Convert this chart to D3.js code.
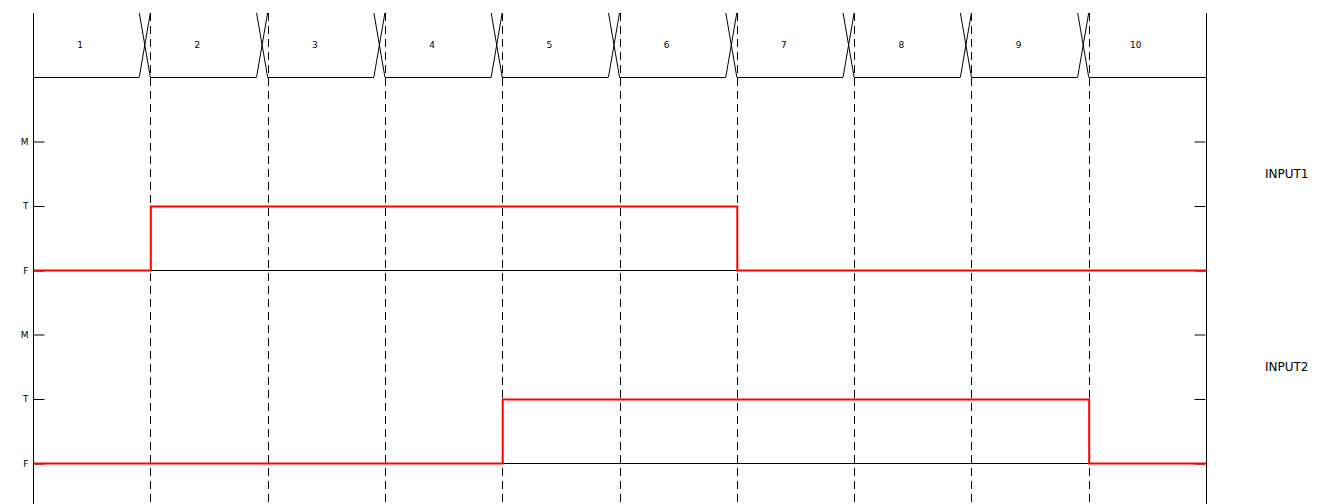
<!DOCTYPE html>
<html><head><meta charset="utf-8">
<script src="https://cdn.jsdelivr.net/npm/d3@7"></script>
<style>body{margin:0;background:#fff}svg{display:block}text{font-family:"DejaVu Sans",sans-serif}</style>
</head><body><svg id="c" width="1329" height="504"></svg>
<script>
const intervals = ["1","2","3","4","5","6","7","8","9","10"];
const levels = ["F","T","M"];
const signalNames = ["INPUT1","INPUT2"];
const input1 = ["F","T","T","T","T","T","F","F","F","F"];
const input2 = ["F","F","F","F","T","T","T","T","T","F"];
const signals = [input1, input2];

(function(){
const svg = d3.select("#c");
const x = d3.scaleLinear().domain([0, intervals.length]).range([33, 1206]);
const rowBand = d3.scaleBand().domain(signalNames).range([77, 463]).paddingInner(0).paddingOuter(0);
const topY = 13, bottomY = 504, busY = 77, cross = 11;

// bus row
const g = svg.append("g").attr("stroke", "#000").attr("stroke-width", 1).attr("fill", "none");
intervals.forEach((d, i) => {
  const x0 = x(i);
  const x1 = i === intervals.length - 1 ? x(i + 1) : x(i + 1) - cross;
  g.append("line").attr("x1", x0).attr("x2", x1).attr("y1", busY + 0.5).attr("y2", busY + 0.5);
  if (i < intervals.length - 1) {
    const xb = x(i + 1);
    g.append("line").attr("x1", xb - cross).attr("y1", busY).attr("x2", xb).attr("y2", topY);
    g.append("line").attr("x1", xb - cross).attr("y1", topY).attr("x2", xb).attr("y2", busY);
  }
  svg.append("text").attr("x", x(i + 0.5) - 11.5).attr("y", 48).attr("text-anchor", "middle")
    .attr("font-size", 9).attr("fill", "#000").text(d);
});

// outer verticals
[0, intervals.length].forEach(v => {
  svg.append("line").attr("x1", Math.round(x(v)) + 0.5).attr("x2", Math.round(x(v)) + 0.5)
    .attr("y1", topY).attr("y2", bottomY).attr("stroke", "#000");
});
// dashed boundaries
d3.range(1, intervals.length).forEach(v => {
  const xv = Math.round(x(v)) + 0.5;
  svg.append("line").attr("x1", xv).attr("x2", xv).attr("y1", topY).attr("y2", bottomY)
    .attr("stroke", "#000").attr("stroke-dasharray", "8,5");
});

signalNames.forEach((name, r) => {
  const b0 = rowBand(name), bh = rowBand.bandwidth();
  const y = d3.scalePoint().domain(levels).range([b0 + bh, b0 + bh / 3]);
  // baseline
  svg.append("line").attr("x1", x(0)).attr("x2", x(intervals.length))
    .attr("y1", Math.round(y("F")) + 0.5).attr("y2", Math.round(y("F")) + 0.5).attr("stroke", "#000");
  const yr = d3.scalePoint().domain(levels).range([Math.round(b0 + bh) + 0.5, Math.round(b0 + bh / 3) + 0.5]);
  const la = svg.append("g").attr("transform", `translate(${Math.round(x(0)) + 11.5},0)`)
    .call(d3.axisLeft(yr).tickSize(11).tickSizeOuter(0).tickPadding(5));
  la.select(".domain").remove();
  la.selectAll("text").attr("font-size", 9).attr("font-family", "DejaVu Sans").attr("fill", "#000");
  la.selectAll("line").attr("stroke", "#000");
  const ra = svg.append("g").attr("transform", `translate(${Math.round(x(intervals.length)) - 11.5},0)`)
    .call(d3.axisRight(yr).tickSize(11).tickSizeOuter(0).tickFormat(""));
  ra.select(".domain").remove();
  ra.selectAll("line").attr("stroke", "#000");
  // signal
  const data = signals[r];
  const pts = [];
  data.forEach((v, i) => {
    pts.push([x(i) + 0.5, Math.round(y(v)) + 0.5]);
    pts.push([x(i + 1) + 0.5, Math.round(y(v)) + 0.5]);
  });
  svg.append("path").attr("d", d3.line()(pts)).attr("fill", "none").attr("stroke", "#ff0000")
    .attr("stroke-width", 2);
  svg.append("text").attr("x", 1265).attr("y", (y("M") + y("T")) / 2 + 4)
    .attr("font-size", 12).attr("fill", "#000").text(name);
});
})();
</script></body></html>
